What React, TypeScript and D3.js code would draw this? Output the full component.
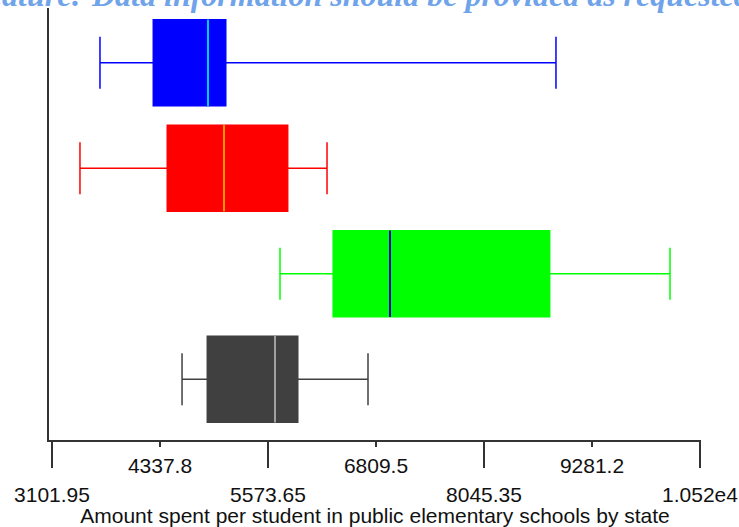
import React from "react";
import * as d3 from "d3";

const categories = ["A", "B", "C", "D"];
const whiskerLow = [3651, 3422, 5711, 4590];
const q1 = [4258, 4418, 6317, 4876];
const median = [4887, 5070, 6970, 5654];
const q3 = [5093, 5802, 8800, 5917];
const whiskerHigh = [8869, 6249, 10174, 6718];
const boxColors = ["#0000ff", "#ff0000", "#00ff00", "#404040"];
const medianColors = ["#00ccff", "#ff9900", "#0000cc", "#a0a0a0"];
const majorTicks = [3101.95, 5573.65, 8045.35, 10517.05];
const majorLabels = ["3101.95", "5573.65", "8045.35", "1.052e4"];
const minorTicks = [4337.8, 6809.5, 9281.2];
const minorLabels = ["4337.8", "6809.5", "9281.2"];
const xTitle = "Amount spent per student in public elementary schools by state";
const captionLead = "Feature:";
const captionRest = "Data information should be provided as requested";

export default function App() {
  const W = 739, H = 527;
  const x = d3.scaleLinear().domain([3101.95, 10517.05]).range([52, 700]);
  const y = d3.scaleBand<string>().domain(categories).range([10, 432]).paddingInner(0.18).paddingOuter(0.09);
  const bw = y.bandwidth();
  const axisY = 441;
  const font = "'Liberation Sans', Arial, sans-serif";
  const fs = 21;
  return (
    <div style={{ position: "absolute", left: 0, top: 0 }}>
      <svg width={W} height={H} style={{ display: "block" }}>
        <rect width={W} height={H} fill="#fff" />
        <text x={82} y={6} textAnchor="end" fontFamily="'Liberation Serif', serif" fontStyle="italic" fontWeight="bold" fontSize={32} fill="#6fa3ea">{captionLead}</text>
        <text x={92} y={6} fontFamily="'Liberation Serif', serif" fontStyle="italic" fontWeight="bold" fontSize={32} fill="#6fa3ea">{captionRest}</text>
        {/* axes */}
        <line x1={48} x2={48} y1={8} y2={axisY} stroke="#333" strokeWidth={2} />
        <line x1={47} x2={701} y1={axisY} y2={axisY} stroke="#333" strokeWidth={2} />
        {majorTicks.map((t, i) => (
          <g key={"M" + i}>
            <line x1={x(t)} x2={x(t)} y1={axisY} y2={468} stroke="#333" strokeWidth={2} />
            <text x={x(t)} y={502} textAnchor="middle" fontFamily={font} fontSize={fs} fill="#111">{majorLabels[i]}</text>
          </g>
        ))}
        {minorTicks.map((t, i) => (
          <g key={"m" + i}>
            <line x1={x(t)} x2={x(t)} y1={axisY} y2={447} stroke="#333" strokeWidth={2} />
            <text x={x(t)} y={473} textAnchor="middle" fontFamily={font} fontSize={fs} fill="#111">{minorLabels[i]}</text>
          </g>
        ))}
        <text x={375} y={523} textAnchor="middle" fontFamily={font} fontSize={fs} fill="#111">{xTitle}</text>
        {categories.map((c, i) => {
          const top = y(c)!;
          const cy = top + bw / 2;
          const capH = bw * 0.6;
          const col = boxColors[i];
          return (
            <g key={c}>
              <line x1={x(whiskerLow[i])} x2={x(q1[i])} y1={cy} y2={cy} stroke={col} strokeWidth={1.5} />
              <line x1={x(q3[i])} x2={x(whiskerHigh[i])} y1={cy} y2={cy} stroke={col} strokeWidth={1.5} />
              <line x1={x(whiskerLow[i])} x2={x(whiskerLow[i])} y1={cy - capH / 2} y2={cy + capH / 2} stroke={col} strokeWidth={1.5} />
              <line x1={x(whiskerHigh[i])} x2={x(whiskerHigh[i])} y1={cy - capH / 2} y2={cy + capH / 2} stroke={col} strokeWidth={1.5} />
              <rect x={x(q1[i])} y={top} width={x(q3[i]) - x(q1[i])} height={bw} fill={col} stroke={col} strokeWidth={1} />
              <line x1={x(median[i])} x2={x(median[i])} y1={top} y2={top + bw} stroke={medianColors[i]} strokeWidth={2} />
            </g>
          );
        })}
      </svg>
    </div>
  );
}
